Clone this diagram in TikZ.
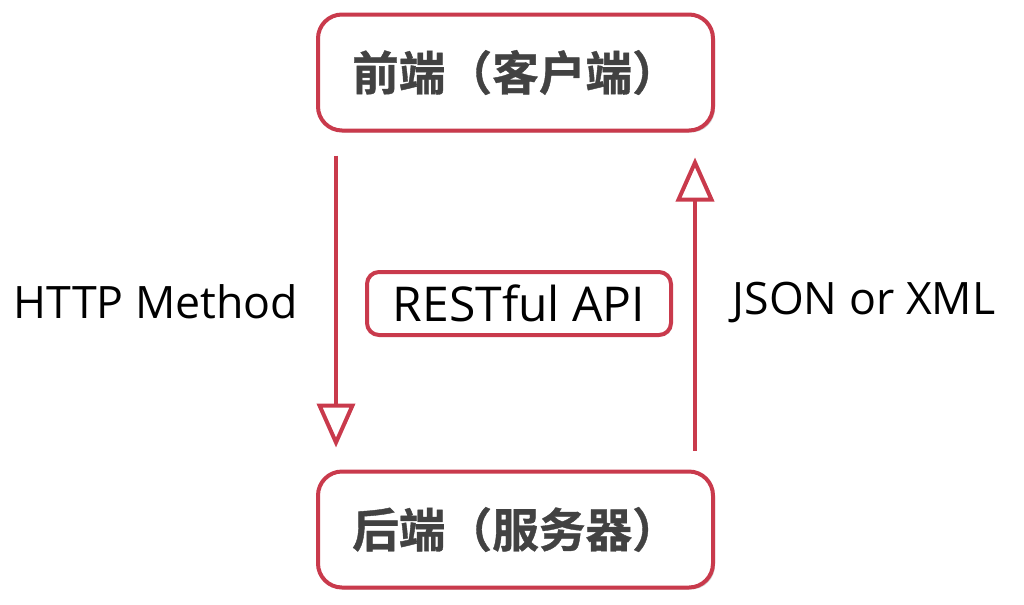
\documentclass[tikz,border=0pt]{standalone}
\usepackage{fontspec}
\setmainfont{Open Sans}
\newfontfamily\cjk{Noto Sans CJK SC}[BoldFont={Noto Sans CJK SC Bold}, BoldFeatures={FakeBold=0.8}]
\usetikzlibrary{arrows.meta,shadows}
\definecolor{rred}{HTML}{C93A4C}
\definecolor{tgray}{HTML}{424242}
\begin{document}
\begin{tikzpicture}[x=0.75pt,y=-0.75pt,
  box/.style={draw=rred, line width=3pt, rounded corners=18pt, fill=white,
    drop shadow={shadow xshift=1.5pt, shadow yshift=-1.5pt, opacity=0.35},
    inner sep=0pt, minimum width=296.25pt, minimum height=87pt,
    font=\cjk\bfseries\fontsize{35}{42}\selectfont, text=tgray},
  apibox/.style={draw=rred, line width=3pt, rounded corners=9pt, fill=white,
    drop shadow={shadow xshift=1.2pt, shadow yshift=-1.2pt, opacity=0.35},
    inner sep=0pt, minimum width=228pt, minimum height=47.25pt,
    font=\fontsize{36}{42}\selectfont},
  lbl/.style={inner sep=0pt, font=\fontsize{33.5}{40}\selectfont},
  arr/.style={draw=rred, line width=3pt,
    -{Triangle[open, length=33pt, width=28.5pt, line width=3pt]}}
]
\useasboundingbox (0,0) rectangle (1024,604);
\node[box] (top) at (515.5,72.5) {前端（客户端）};
\node[box] (bot) at (515.5,529.5) {后端（服务器）};
\node[apibox] (api) at (519,303.5) {RESTful API};
\node[lbl] (http) at (156,302) {HTTP Method};
\node[lbl] (json) at (864,302) {JSON or XML};
\draw[arr] ([xshift=15pt,yshift=-17.25pt]top.south west) -- ([xshift=15pt,yshift=16.5pt]bot.north west);
\draw[arr] ([xshift=-15pt,yshift=14.25pt]bot.north east) -- ([xshift=-15pt,yshift=-18.75pt]top.south east);
\end{tikzpicture}
\end{document}
